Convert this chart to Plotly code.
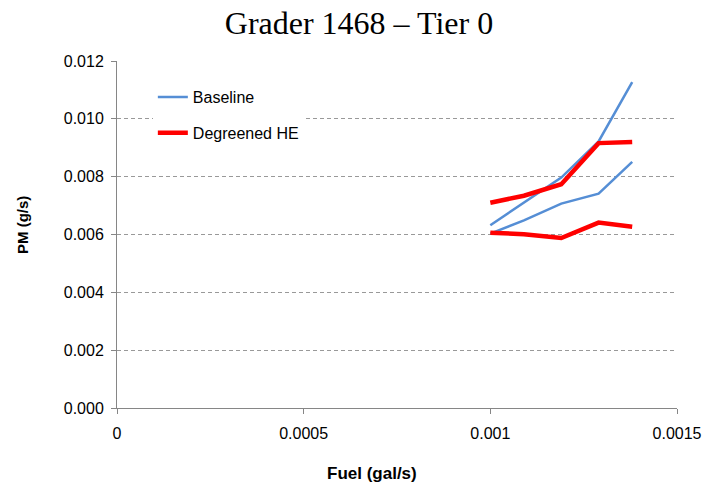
import plotly.graph_objects as go

# Fuel rate (gal/s) at each operating point
fuel = [0.001, 0.00109, 0.00119, 0.00129, 0.00138]

# PM emission rate (g/s), two runs per fuel type
baseline_high = [0.00632, 0.00709, 0.00797, 0.00922, 0.01127]
baseline_low = [0.00603, 0.00649, 0.00707, 0.00741, 0.00851]
degreened_high = [0.00710, 0.00734, 0.00774, 0.00916, 0.00920]
degreened_low = [0.00606, 0.00601, 0.00588, 0.00641, 0.00627]

x_tickvals = [0, 0.0005, 0.001, 0.0015]
x_ticktext = ["0", "0.0005", "0.001", "0.0015"]

BLUE = "#558ED5"
RED = "#FF0000"
GREY = "#868686"
SANS = "Liberation Sans, Arial, sans-serif"
SERIF = "Liberation Serif, Times New Roman, serif"

fig = go.Figure()
series = [
    ("Baseline", BLUE, 2.5, [baseline_high, baseline_low]),
    ("Degreened HE", RED, 4.5, [degreened_high, degreened_low]),
]
for name, color, width, runs in series:
    for i, y in enumerate(runs):
        fig.add_trace(go.Scatter(
            x=fuel, y=y, mode="lines", name=name,
            legendgroup=name, showlegend=(i == 0),
            line=dict(color=color, width=width),
        ))

fig.update_layout(
    width=706, height=487,
    margin=dict(l=117, r=29, t=61, b=79),
    paper_bgcolor="white", plot_bgcolor="white",
    font=dict(family=SANS, size=16, color="black"),
    title=dict(text="Grader 1468 \u2013 Tier 0", x=359 / 706, xref="container", xanchor="center",
               y=1 - 23 / 487, yref="container", yanchor="middle",
               font=dict(family=SERIF, size=32, color="black")),
    legend=dict(x=0.064, y=0.945, xanchor="left", yanchor="top",
                bgcolor="white", borderwidth=0, tracegroupgap=12,
                traceorder="grouped", font=dict(size=16)),
    showlegend=True,
)
fig.update_xaxes(
    range=[0, 0.0015], tickvals=x_tickvals, ticktext=x_ticktext,
    showline=True, linecolor=GREY, linewidth=1,
    ticks="outside", ticklen=5, tickcolor=GREY, ticklabelstandoff=6,
    showgrid=False, zeroline=False, automargin=False,
)
fig.update_yaxes(
    range=[0, 0.012], dtick=0.002, tickformat=".3f",
    showline=True, linecolor=GREY, linewidth=1,
    ticks="outside", ticklen=5, tickcolor=GREY, ticklabelstandoff=4,
    showgrid=True, gridcolor="#999999", griddash="4px,3px", gridwidth=1,
    zeroline=False, automargin=False,
)
fig.add_annotation(text="<b>Fuel (gal/s)</b>", xref="paper", yref="paper",
                   x=(372 - 117) / 560, y=(408 - 473) / 347, xanchor="center", yanchor="middle",
                   showarrow=False, font=dict(size=17))
fig.add_annotation(text="<b>PM (g/s)</b>", xref="paper", yref="paper",
                   x=(22 - 117) / 560, y=(408 - 225) / 347, xanchor="center", yanchor="middle",
                   textangle=-90, showarrow=False, font=dict(size=15))

fig.write_html("out.html")
